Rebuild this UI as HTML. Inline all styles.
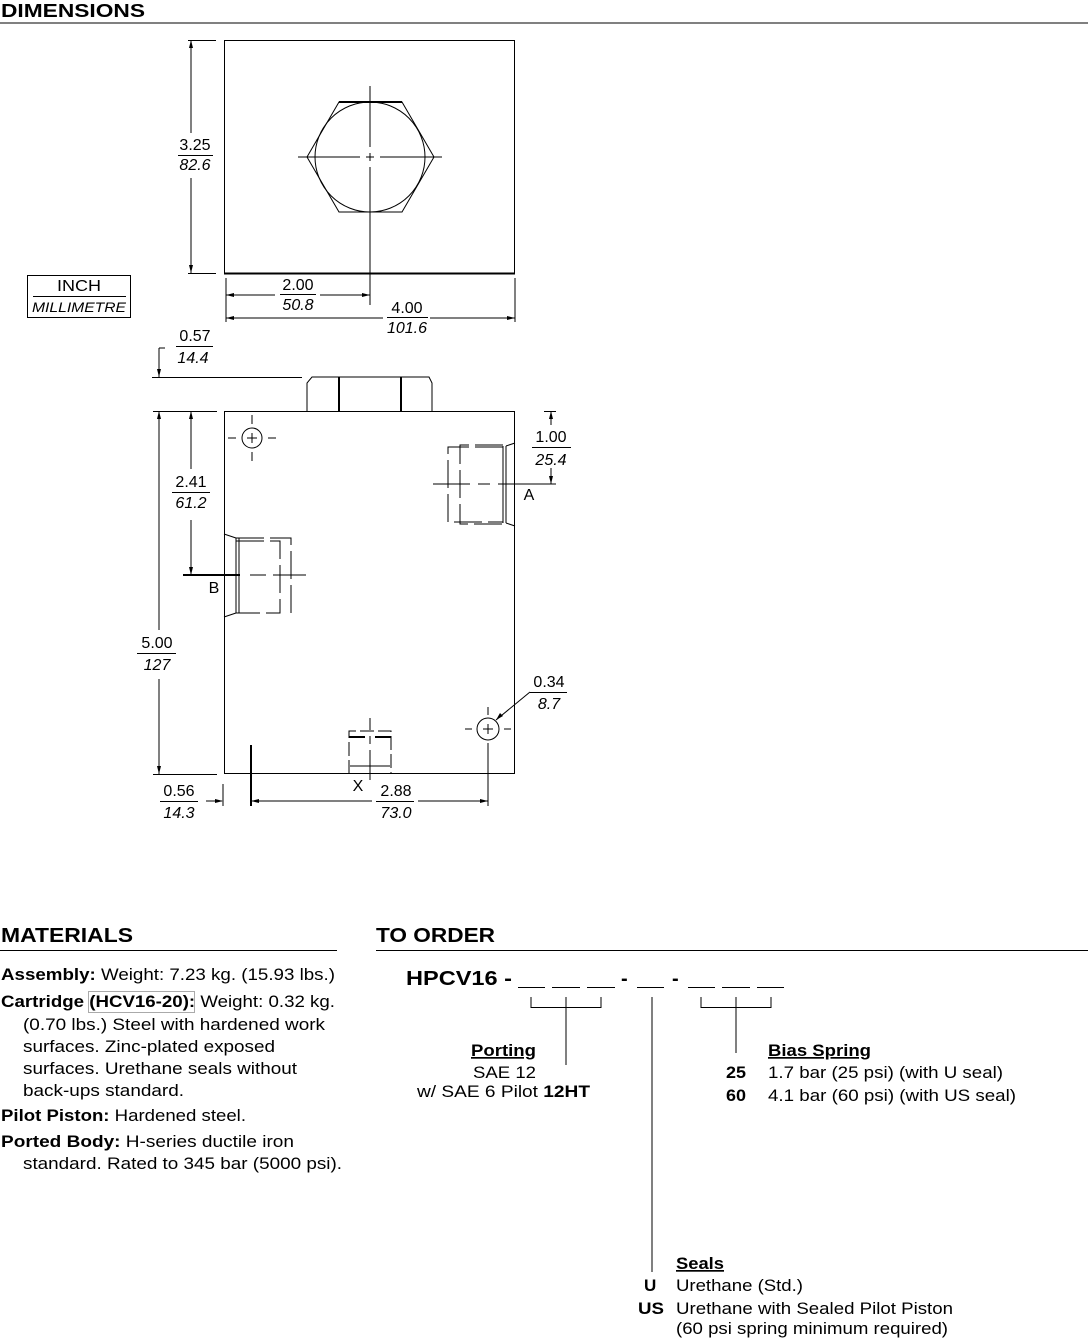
<!DOCTYPE html>
<html><head><meta charset="utf-8"><style>
html,body{margin:0;padding:0;background:#fff}
svg{display:block}
text{font-family:"Liberation Sans",sans-serif;fill:#000}
.d{font-size:16px}
.i{font-style:italic}
.b{font-weight:bold}
.m{font-size:17px}
</style></head><body>
<svg width="1088" height="1339" viewBox="0 0 1088 1339" xmlns="http://www.w3.org/2000/svg">
<g stroke="#000" fill="none" stroke-width="1">
<line x1="0" y1="23" x2="1088" y2="23"/>
<rect x="224.5" y="40.5" width="290" height="233"/>
<line x1="224" y1="273.5" x2="515" y2="273.5" stroke-width="2"/>
<polygon points="339,102 402,102 434,157 402,212 339,212 307,157"/>
<line x1="339" y1="102" x2="402" y2="102" stroke-width="2"/>
<circle cx="370" cy="157" r="55"/>
<line x1="298" y1="157" x2="360" y2="157"/><line x1="366" y1="157" x2="374" y2="157"/><line x1="380" y1="157" x2="442" y2="157"/>
<line x1="370" y1="86" x2="370" y2="147"/><line x1="370" y1="153" x2="370" y2="161"/><line x1="370" y1="167" x2="370" y2="305"/>
<line x1="188" y1="40.5" x2="216" y2="40.5"/><line x1="188" y1="273.5" x2="216" y2="273.5"/>
<line x1="191" y1="40" x2="191" y2="133"/><line x1="191" y1="178" x2="191" y2="273"/>
<line x1="178" y1="155.5" x2="213" y2="155.5"/>
<line x1="226" y1="278" x2="226" y2="322"/><line x1="515" y1="278" x2="515" y2="322"/>
<line x1="226" y1="295" x2="275" y2="295"/><line x1="320" y1="295" x2="370" y2="295"/>
<line x1="280" y1="294.5" x2="316" y2="294.5"/>
<line x1="226" y1="318" x2="383" y2="318"/><line x1="430" y1="318" x2="515" y2="318"/>
<line x1="387" y1="317.5" x2="428" y2="317.5"/>
<rect x="27.5" y="275.5" width="103" height="42"/>
<line x1="33" y1="296.5" x2="126" y2="296.5"/>
<rect x="224.5" y="411.5" width="290" height="362"/>
<path d="M307,411 L307,383 L312,377 L429,377 L432,383 L432,411"/>
<line x1="339" y1="377" x2="339" y2="411" stroke-width="2"/><line x1="401" y1="377" x2="401" y2="411" stroke-width="2"/>
<line x1="152" y1="377.5" x2="302" y2="377.5"/>
<line x1="159" y1="348" x2="159" y2="377"/><line x1="159" y1="348" x2="165" y2="348"/>
<line x1="176" y1="346.5" x2="213" y2="346.5"/>
<line x1="153" y1="411.5" x2="217" y2="411.5"/><line x1="153" y1="774.5" x2="217" y2="774.5"/>
<line x1="159" y1="411" x2="159" y2="630"/><line x1="159" y1="679" x2="159" y2="774"/>
<line x1="137" y1="653.5" x2="176" y2="653.5"/>
<line x1="191" y1="411" x2="191" y2="469"/><line x1="191" y1="520" x2="191" y2="575"/>
<line x1="172" y1="492.5" x2="210" y2="492.5"/>
<line x1="183" y1="575" x2="240" y2="575" stroke-width="2"/>
<circle cx="252" cy="438" r="10"/>
<line x1="247" y1="438" x2="257" y2="438"/><line x1="252" y1="433" x2="252" y2="443"/>
<line x1="228" y1="438" x2="236" y2="438"/><line x1="268" y1="438" x2="276" y2="438"/>
<line x1="252" y1="415" x2="252" y2="424"/><line x1="252" y1="452" x2="252" y2="461"/>
<g stroke-dasharray="28,6">
<path d="M503,447 L448,447 L448,522 L503,522"/>
<path d="M503,445 L460,445 L460,524 L503,524"/>
</g>
<line x1="503" y1="446" x2="503" y2="523"/><line x1="506" y1="446" x2="506" y2="523"/>
<line x1="506" y1="446" x2="515" y2="443"/><line x1="506" y1="523" x2="515" y2="526"/>
<line x1="433" y1="484" x2="470" y2="484"/><line x1="478" y1="484" x2="490" y2="484"/><line x1="498" y1="484" x2="556" y2="484"/>
<line x1="544" y1="411.5" x2="556" y2="411.5"/>
<line x1="551" y1="411" x2="551" y2="425"/><line x1="551" y1="468" x2="551" y2="484"/>
<line x1="532" y1="447.5" x2="571" y2="447.5"/>
<g stroke-dasharray="28,6">
<path d="M236,538 L291,538 L291,613"/>
<path d="M236,541 L280,541 L280,613 L236,613"/>
</g>
<line x1="236" y1="538" x2="236" y2="613"/><line x1="239" y1="538" x2="239" y2="613"/>
<line x1="236" y1="538" x2="224" y2="534"/><line x1="236" y1="613" x2="224" y2="617"/>
<line x1="250" y1="575" x2="266" y2="575"/><line x1="273" y1="575" x2="306" y2="575"/>
<g stroke-dasharray="14,4">
<path d="M349,774 L349,731 L391,731 L391,774"/>
</g>
<line x1="349" y1="737" x2="365" y2="737" stroke-width="2"/><line x1="375" y1="737" x2="391" y2="737" stroke-width="2"/>
<line x1="350" y1="766" x2="390" y2="766"/>
<line x1="370" y1="718" x2="370" y2="730"/><line x1="370" y1="736" x2="370" y2="744"/><line x1="370" y1="750" x2="370" y2="780"/>
<circle cx="488" cy="729" r="11"/>
<line x1="483" y1="729" x2="493" y2="729"/><line x1="488" y1="724" x2="488" y2="734"/>
<line x1="465" y1="729" x2="472" y2="729"/><line x1="504" y1="729" x2="511" y2="729"/>
<line x1="488" y1="707" x2="488" y2="715"/><line x1="488" y1="743" x2="488" y2="806"/>
<line x1="530" y1="692" x2="496" y2="720"/>
<line x1="530" y1="692.5" x2="567" y2="692.5"/>
<line x1="251" y1="745" x2="251" y2="806" stroke-width="2"/>
<line x1="251" y1="801" x2="372" y2="801"/><line x1="418" y1="801" x2="488" y2="801"/>
<line x1="376" y1="801.5" x2="414" y2="801.5"/>
<line x1="223" y1="784" x2="223" y2="806"/>
<line x1="206" y1="801" x2="222" y2="801"/>
<line x1="160" y1="801.5" x2="198" y2="801.5"/>
<line x1="0" y1="950.5" x2="337" y2="950.5"/>
<line x1="376" y1="950.5" x2="1088" y2="950.5"/>
<line x1="518" y1="987.5" x2="545" y2="987.5"/><line x1="552" y1="987.5" x2="580" y2="987.5"/><line x1="587" y1="987.5" x2="615" y2="987.5"/>
<line x1="637" y1="987.5" x2="664" y2="987.5"/>
<line x1="688" y1="987.5" x2="715" y2="987.5"/><line x1="722" y1="987.5" x2="750" y2="987.5"/><line x1="757" y1="987.5" x2="784" y2="987.5"/>
<path d="M531,997 L531,1007.5 L601,1007.5 L601,997 M566,997 L566,1065"/>
<path d="M701,997 L701,1007.5 L771,1007.5 L771,997 M736,997 L736,1053"/>
<line x1="652" y1="997" x2="652" y2="1272"/>
</g>
<rect x="88.5" y="991.5" width="106" height="21" fill="none" stroke="#aaa"/>
<g fill="#000">
<polygon points="191,40 189,48 193,48"/><polygon points="191,273 189,265 193,265"/>
<polygon points="226,295 234,293 234,297"/><polygon points="370,295 362,293 362,297"/>
<polygon points="226,318 234,316 234,320"/><polygon points="515,318 507,316 507,320"/>
<polygon points="159,377 157,369 161,369"/>
<polygon points="159,411 157,419 161,419"/><polygon points="159,774 157,766 161,766"/>
<polygon points="191,411 189,419 193,419"/><polygon points="191,575 189,567 193,567"/>
<polygon points="551,411 549,419 553,419"/><polygon points="551,484 549,476 553,476"/>
<polygon points="496,720 500,713 503,716"/>
<polygon points="251,801 259,799 259,803"/><polygon points="488,801 480,799 480,803"/>
<polygon points="223,801 215,799 215,803"/>
</g>
<text x="1" y="17" class="b" font-size="18" textLength="144" lengthAdjust="spacingAndGlyphs">DIMENSIONS</text>
<g class="d" text-anchor="middle">
<text x="195" y="150">3.25</text><text x="195" y="170" class="i">82.6</text>
<text x="298" y="290">2.00</text><text x="298" y="310" class="i">50.8</text>
<text x="407" y="313">4.00</text><text x="407" y="333" class="i">101.6</text>
<text x="79" y="291" textLength="44" lengthAdjust="spacingAndGlyphs">INCH</text><text x="79" y="312" class="i" font-size="14" textLength="94" lengthAdjust="spacingAndGlyphs">MILLIMETRE</text>
<text x="195" y="341">0.57</text><text x="193" y="363" class="i">14.4</text>
<text x="157" y="648">5.00</text><text x="157" y="670" class="i">127</text>
<text x="191" y="487">2.41</text><text x="191" y="508" class="i">61.2</text>
<text x="551" y="442">1.00</text><text x="551" y="465" class="i">25.4</text>
<text x="549" y="687">0.34</text><text x="549" y="709" class="i">8.7</text>
<text x="396" y="796">2.88</text><text x="396" y="818" class="i">73.0</text>
<text x="179" y="796">0.56</text><text x="179" y="818" class="i">14.3</text>
<text x="214" y="593">B</text><text x="529" y="500">A</text><text x="358" y="791">X</text>
</g>
<text x="1" y="942" class="b" font-size="20" textLength="132" lengthAdjust="spacingAndGlyphs">MATERIALS</text>
<text x="376" y="942" class="b" font-size="20" textLength="119" lengthAdjust="spacingAndGlyphs">TO ORDER</text>
<g class="m">
<text x="1" y="980" textLength="334" lengthAdjust="spacingAndGlyphs"><tspan class="b">Assembly:</tspan> Weight: 7.23 kg. (15.93 lbs.)</text>
<text x="1" y="1007" textLength="334" lengthAdjust="spacingAndGlyphs"><tspan class="b">Cartridge (HCV16-20):</tspan> Weight: 0.32 kg.</text>
<text x="23" y="1030" textLength="302" lengthAdjust="spacingAndGlyphs">(0.70 lbs.) Steel with hardened work</text>
<text x="23" y="1052" textLength="252" lengthAdjust="spacingAndGlyphs">surfaces. Zinc-plated exposed</text>
<text x="23" y="1074" textLength="274" lengthAdjust="spacingAndGlyphs">surfaces. Urethane seals without</text>
<text x="23" y="1096" textLength="161" lengthAdjust="spacingAndGlyphs">back-ups standard.</text>
<text x="1" y="1121" textLength="245" lengthAdjust="spacingAndGlyphs"><tspan class="b">Pilot Piston:</tspan> Hardened steel.</text>
<text x="1" y="1147" textLength="293" lengthAdjust="spacingAndGlyphs"><tspan class="b">Ported Body:</tspan>  H-series ductile iron</text>
<text x="23" y="1169" textLength="319" lengthAdjust="spacingAndGlyphs">standard. Rated to 345 bar (5000 psi).</text>
</g>
<text x="406" y="985" class="b" font-size="20" textLength="106" lengthAdjust="spacingAndGlyphs">HPCV16 -</text>
<text x="621" y="985" class="b" font-size="20">-</text>
<text x="672" y="985" class="b" font-size="20">-</text>
<g class="m">
<text x="471" y="1056" class="b" text-decoration="underline" textLength="65" lengthAdjust="spacingAndGlyphs">Porting</text>
<text x="473" y="1078" textLength="63" lengthAdjust="spacingAndGlyphs">SAE 12</text>
<text x="417" y="1097" textLength="173" lengthAdjust="spacingAndGlyphs">w/ SAE 6 Pilot <tspan class="b">12HT</tspan></text>
<text x="768" y="1056" class="b" text-decoration="underline" textLength="103" lengthAdjust="spacingAndGlyphs">Bias Spring</text>
<text x="726" y="1078" class="b" textLength="20" lengthAdjust="spacingAndGlyphs">25</text><text x="768" y="1078" textLength="235" lengthAdjust="spacingAndGlyphs">1.7 bar (25 psi) (with U seal)</text>
<text x="726" y="1101" class="b" textLength="20" lengthAdjust="spacingAndGlyphs">60</text><text x="768" y="1101" textLength="248" lengthAdjust="spacingAndGlyphs">4.1 bar (60 psi) (with US seal)</text>
<text x="676" y="1269" class="b" text-decoration="underline" textLength="48" lengthAdjust="spacingAndGlyphs">Seals</text>
<text x="644" y="1291" class="b">U</text><text x="676" y="1291" textLength="127" lengthAdjust="spacingAndGlyphs">Urethane (Std.)</text>
<text x="638" y="1314" class="b" textLength="26" lengthAdjust="spacingAndGlyphs">US</text><text x="676" y="1314" textLength="277" lengthAdjust="spacingAndGlyphs">Urethane with Sealed Pilot Piston</text>
<text x="676" y="1334" textLength="272" lengthAdjust="spacingAndGlyphs">(60 psi spring minimum required)</text>
</g>
</svg>
</body></html>
